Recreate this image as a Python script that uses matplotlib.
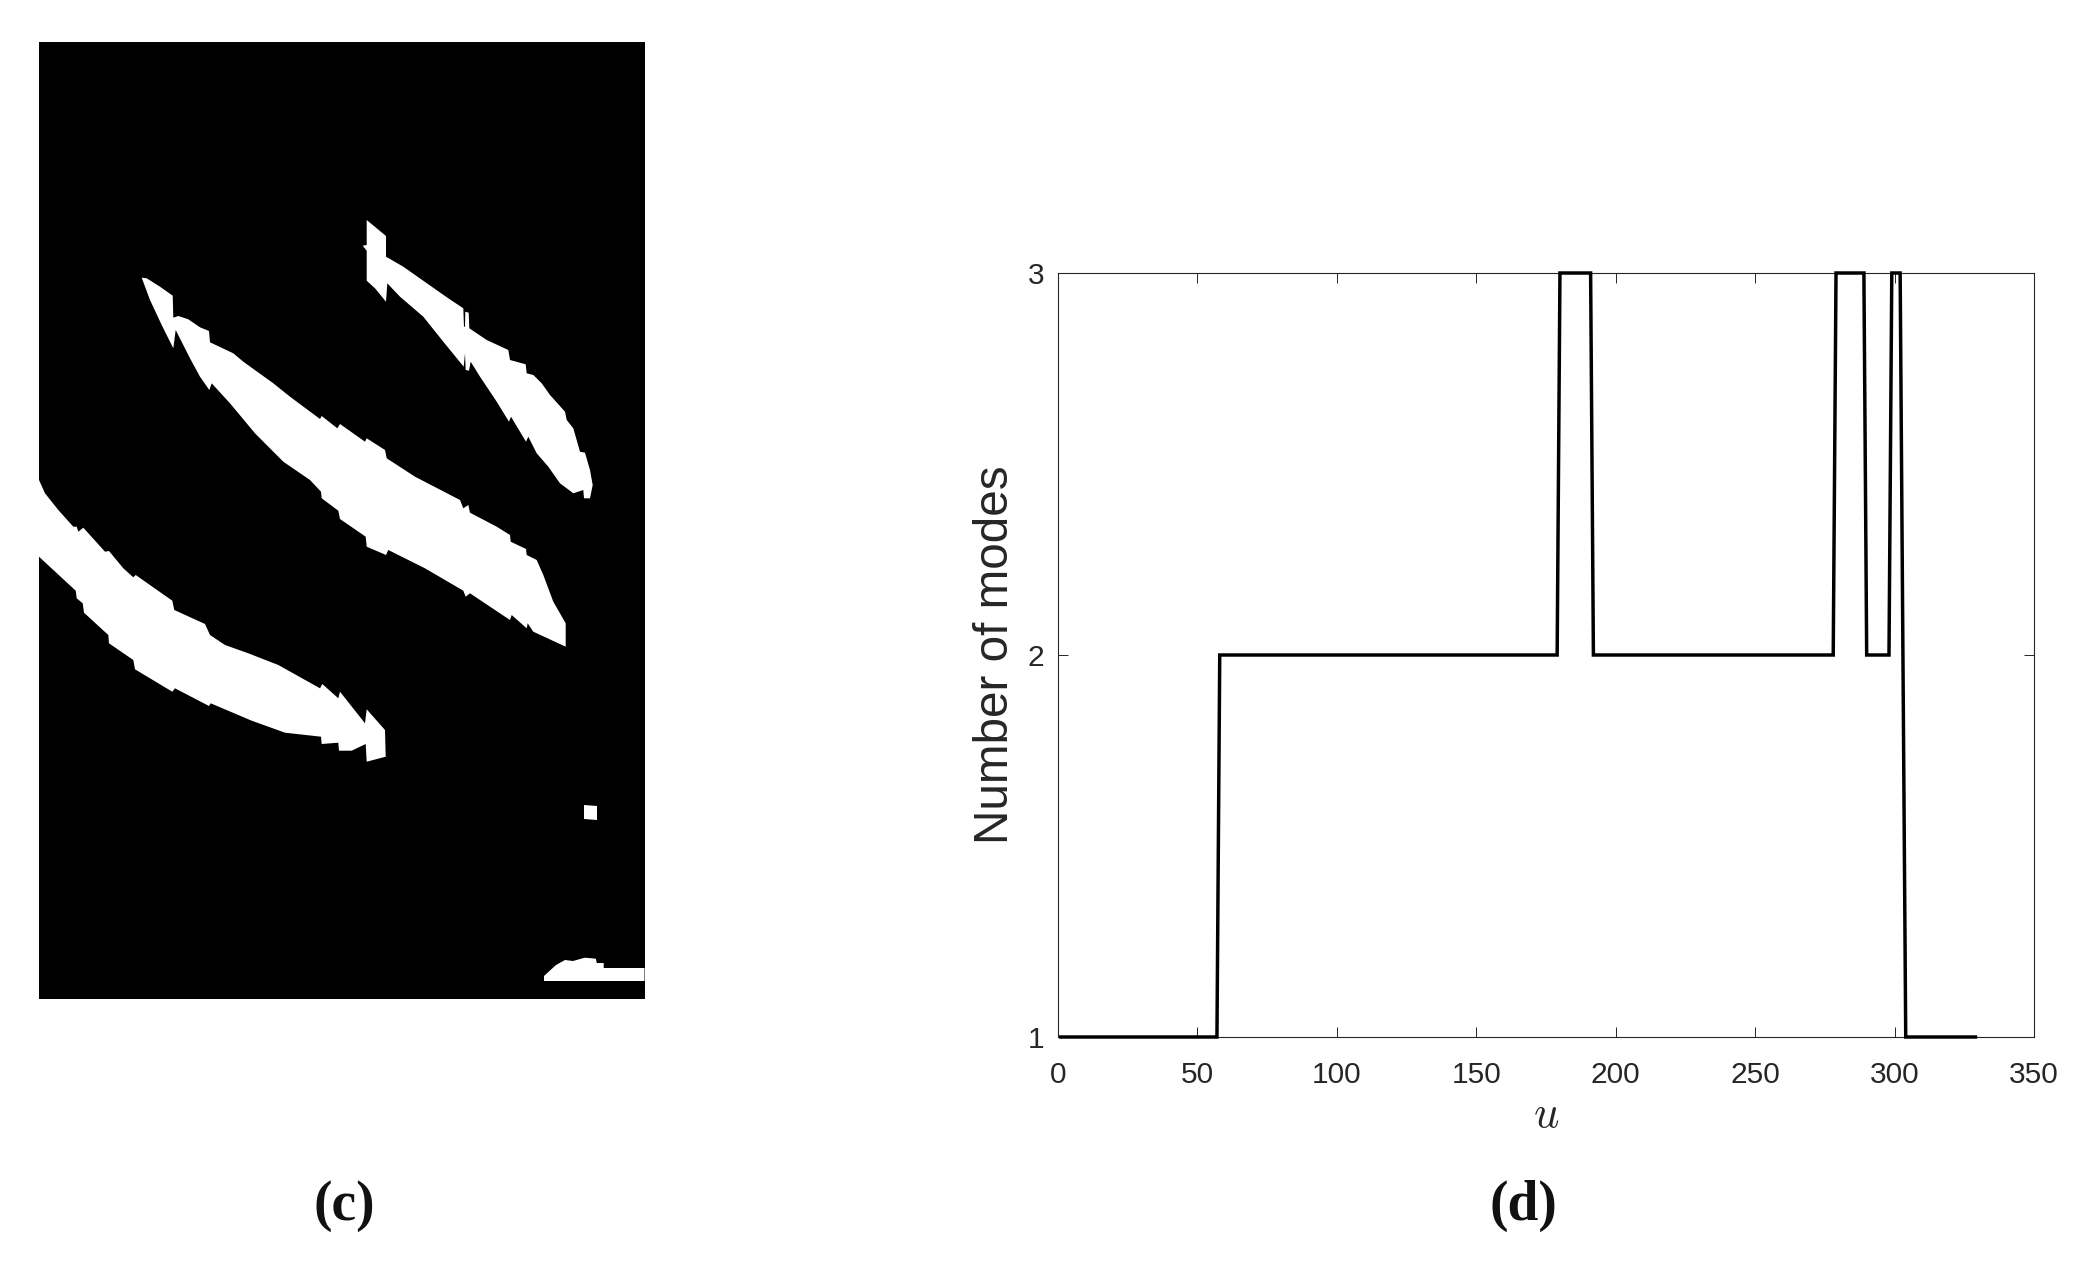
import matplotlib
matplotlib.use("Agg")
import matplotlib.pyplot as plt

W, H = 2096, 1261
INK = "#262626"

# (c) binary segmentation regions, in image pixel coordinates
region_upper_x = [366.7,386,386,403.3,435,448.3,463.3,464,465,465.3,468.7,469.3,486.7,508.3,510,525.7,526.7,533.3,541.7,550,565,566.7,573.3,580,585,590,592.7,590,584,583.3,573.3,566.7,560,548.3,536.7,528.3,526,511,509,496.7,480,470.7,469,465.7,465,463.7,443.3,423.3,400,387.3,386,375,366.7,366.7,362.7,366.7]
region_upper_y = [220,236,256.7,266.7,289,298.3,308.3,326.7,326.7,311.7,312.7,328.3,340,350,360,364.3,373.3,375,383.3,395,411.7,420,428.3,451.7,452.7,470,485,498.3,498.3,490,493.3,488.3,483.3,466.7,453.3,436.7,441.7,416.7,421.7,401.7,376.7,361.7,370.7,370,353.3,366.7,341.7,316.7,296.7,283.3,301.7,288.3,280.7,250.7,245.7,245]
region_middle_x = [141.7,146.7,160,172.7,173.3,178.3,188.3,200,209,210,233.3,243.3,273.3,290,320,321.7,337.3,340,365,366.7,385,386.7,415,460,463.3,468.3,470,496.7,510,510.7,526,526.7,536.7,543.3,553.3,565.7,565.7,533.3,527.7,526.7,511.7,510,470,465.7,463.3,425,388.3,386,366.7,365.7,340,338.3,321.7,321,310,283.3,255,230,211.7,209.3,200,190,175.7,173.3,161.7,150]
region_middle_y = [277.7,278.3,286.7,295.7,317.7,316,319.3,327.3,331,342.3,353.3,361.7,383.3,396.7,419,416,428.3,424,441.7,438.3,450,458.3,476.7,500,508.3,505,512.7,526.7,535,541.7,549,555,560,575,601.7,623.3,646.7,631.7,623.3,628.3,615,620,593.3,596.7,590.7,568.3,550,555,546.7,536.7,519,510.7,498.3,491.7,480,461.7,433.3,403.3,383.3,390,376.7,358.3,330,348.3,325,300]
region_lower_x = [39,45,58.3,73.3,76.7,78.3,83.3,105,109,123.3,133.3,135.7,172.3,174.3,205,210,225,248.3,278.3,320,322.3,338.3,340,365,366.7,385,385.7,366.7,365.7,351.7,339,338.3,321.7,321,285,251.7,210.7,209,175,172.3,135,133.3,109,108.3,84,82.7,76.7,75.7,39]
region_lower_y = [480,493.3,510,526.7,526.7,531.7,527.7,551.7,551,568.3,577.3,575,600.7,610,624,635,645,653.3,665,688.3,684,698.3,691.7,723.3,709.3,730,756.7,761.7,744,750.7,750.7,742.7,744,736.7,732.7,720.7,703.3,706,688.3,691.7,669.3,660,643.3,635,612.7,603.3,598.3,590.7,556.7]
region_dot_x = [584,597,597,584]
region_dot_y = [805,806,820,819]
region_base_x = [544,544,556,565,573,584.8,595.8,596.8,603.7,603.7,644.5,644.5]
region_base_y = [981,976,965,960,961,957.7,958.7,963,963,968,968,981]
regions = [(region_upper_x, region_upper_y), (region_middle_x, region_middle_y),
           (region_lower_x, region_lower_y), (region_dot_x, region_dot_y),
           (region_base_x, region_base_y)]

# (d) number of modes along u
u_values = [1,57,58,179,180,191,192,278,279,289,290,298,299,302,304,329]
mode_counts = [1,1,2,2,3,3,2,2,3,3,2,2,3,3,1,1]
u_ticks = [0,50,100,150,200,250,300,350]
mode_ticks = [1,2,3]

plt.rcParams["font.family"] = ["Liberation Sans", "DejaVu Sans"]
plt.rcParams["mathtext.fontset"] = "cm"

fig = plt.figure(figsize=(W/100, H/100), dpi=100, facecolor="white")

def box(l, t, r, b):
    return [l/W, 1-b/H, (r-l)/W, (b-t)/H]

ax1 = fig.add_axes(box(39, 41.5, 644.5, 999))
ax1.set_facecolor("black")
ax1.set_xlim(39, 644.5)
ax1.set_ylim(999, 41.5)
ax1.set_xticks([]); ax1.set_yticks([])
for s in ax1.spines.values():
    s.set_visible(False)
for xs, ys in regions:
    ax1.fill(xs, ys, color="white", lw=0)

ax2 = fig.add_axes(box(1058, 273, 2034, 1037))
ax2.plot(u_values, mode_counts, color="black", lw=2.5, solid_joinstyle="miter", clip_on=False, zorder=5)
ax2.set_xlim(0, 350)
ax2.set_ylim(1, 3)
ax2.set_xticks(u_ticks)
ax2.set_yticks(mode_ticks)
ax2.tick_params(direction="in", top=True, right=True, length=7, width=0.7,
                color=INK, labelcolor=INK, labelsize=21.5)
ax2.tick_params(axis="x", pad=17.5)
ax2.tick_params(axis="y", pad=10)
for s in ax2.spines.values():
    s.set_linewidth(0.8)
    s.set_color(INK)
ax2.set_xlabel(r"$u$", fontsize=32, color=INK)
ax2.xaxis.set_label_coords(0.5, -0.103, transform=ax2.transAxes)
ax2.xaxis.label.set_verticalalignment("center")
ax2.set_ylabel("Number of modes", fontsize=34.3, color=INK)
ax2.yaxis.set_label_coords((995-1058)/976, 0.5, transform=ax2.transAxes)
ax2.yaxis.label.set_verticalalignment("center")

fig.text(344.5/W, 1-1206/H, "(c)", ha="center", va="center", fontsize=40,
         family=["Liberation Serif"], fontweight="bold", color="#111111")
fig.text(1523/W, 1-1206/H, "(d)", ha="center", va="center", fontsize=40,
         family=["Liberation Serif"], fontweight="bold", color="#111111")

fig.savefig("out.png", dpi=100, facecolor="white")
